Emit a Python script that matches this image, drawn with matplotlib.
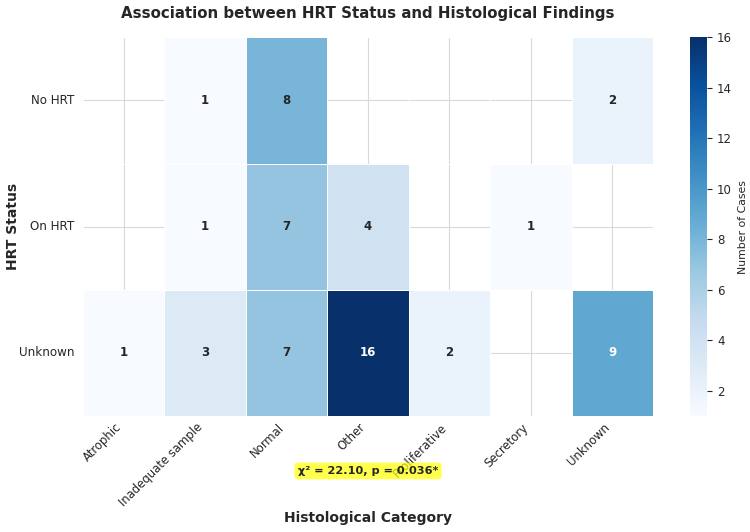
import numpy as np
import pandas as pd
import matplotlib
matplotlib.use("Agg")
import matplotlib.pyplot as plt
import seaborn as sns

categories = ["Atrophic", "Inadequate sample", "Normal", "Other", "Proliferative", "Secretory", "Unknown"]
hrt_status = ["No HRT", "On HRT", "Unknown"]
no_hrt = [0, 1, 8, 0, 0, 0, 2]
on_hrt = [0, 1, 7, 4, 0, 1, 0]
unknown = [1, 3, 7, 16, 2, 0, 9]

df = pd.DataFrame([no_hrt, on_hrt, unknown], index=hrt_status, columns=categories)

sns.set_style("whitegrid")
plt.rcParams['font.family'] = ['DejaVu Sans']

fig = plt.figure(figsize=(7.5, 5.32), dpi=100)
ax = fig.add_axes([0.1107, 0.218, 0.76, 0.712])
cax = fig.add_axes([0.92, 0.218, 0.023, 0.712])

sns.heatmap(df, mask=(df == 0), annot=True, fmt="d", cmap="Blues",
            linewidths=0.5, linecolor="white", ax=ax, cbar_ax=cax,
            annot_kws={"fontweight": "bold", "fontsize": 8.5},
            cbar_kws={"label": "Number of Cases"})
ax.set_axisbelow(True)
ax.grid(True, color="#d9d9d9", linewidth=0.8)
for s in ax.spines.values():
    s.set_visible(False)

ax.set_title("Association between HRT Status and Histological Findings",
             fontsize=10.8, fontweight="bold", pad=14)
ax.set_xlabel("Histological Category", fontsize=10, fontweight="bold")
ax.set_ylabel("HRT Status", fontsize=10, fontweight="bold")
ax.xaxis.set_label_coords(0.5, -0.25)
ax.yaxis.set_label_coords(-0.11, 0.5)
ax.set_xticklabels(ax.get_xticklabels(), rotation=45, ha="right", fontsize=8.4)
ax.set_yticklabels(ax.get_yticklabels(), rotation=0, fontsize=8.6)
ax.tick_params(axis="both", length=0)
ax.tick_params(axis="y", pad=6)
cax.tick_params(labelsize=8.5)
cax.yaxis.label.set_size(7.8)

ax.text(0.5, -0.145, "χ² = 22.10, p = 0.036*", transform=ax.transAxes,
        ha="center", va="center", fontsize=8.1, fontweight="bold",
        bbox=dict(boxstyle="round,pad=0.3", facecolor="yellow", alpha=0.7, edgecolor="none"))

fig.savefig("out.png", dpi=100)
